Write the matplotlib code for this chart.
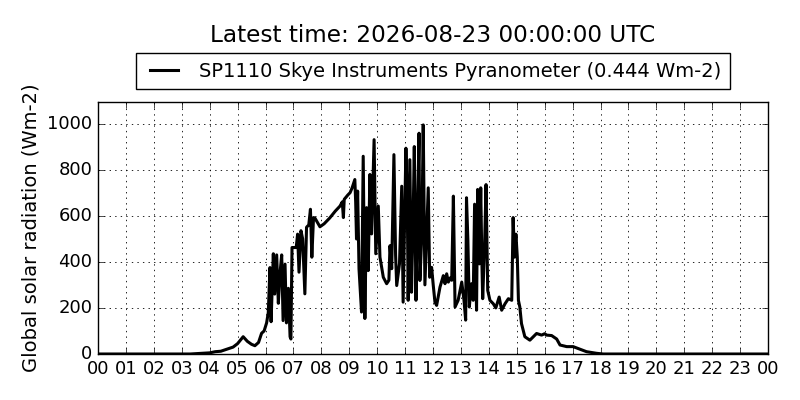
import matplotlib
matplotlib.use("Agg")
import matplotlib.pyplot as plt

# 読み取った値 (時刻[h], 日射量[Wm-2])
hours = [0.0, 3.3, 3.6, 4.0, 4.2, 4.4, 4.6, 4.84, 5.0, 5.2, 5.35, 5.5, 5.62, 5.75, 5.86, 5.95,
         6.04, 6.1, 6.16, 6.2, 6.28, 6.33, 6.4, 6.46, 6.52, 6.58, 6.63, 6.7, 6.75, 6.82, 6.88, 6.91,
         6.95, 7.1, 7.15, 7.2, 7.27, 7.33, 7.41, 7.47, 7.55, 7.61, 7.66, 7.72, 7.77, 7.95,
         8.1, 8.3, 8.5, 8.67, 8.75, 8.79, 8.82, 8.95, 9.03, 9.1, 9.2, 9.23, 9.26, 9.3, 9.35,
         9.44, 9.5, 9.56, 9.62, 9.68, 9.74, 9.8, 9.89, 9.95, 10.04, 10.1, 10.22, 10.34, 10.42,
         10.46, 10.52, 10.6, 10.66, 10.7, 10.8, 10.88, 10.93, 11.03, 11.08, 11.11, 11.17, 11.23,
         11.29, 11.33, 11.39, 11.44, 11.5, 11.53, 11.6, 11.65, 11.71, 11.76, 11.83, 11.88, 11.95,
         12.01, 12.07, 12.13, 12.25, 12.37, 12.43, 12.49, 12.55, 12.61, 12.67, 12.73, 12.79,
         12.9, 13.03, 13.11, 13.17, 13.2, 13.25, 13.3, 13.38, 13.44, 13.49, 13.56, 13.6, 13.66,
         13.71, 13.75, 13.78, 13.85, 13.9, 13.96, 14.04, 14.16, 14.25, 14.37, 14.46, 14.58,
         14.7, 14.82, 14.87, 14.92, 14.97, 15.02, 15.06, 15.11, 15.17, 15.29, 15.47, 15.71,
         15.89, 16.0, 16.07, 16.25, 16.43, 16.55, 16.79, 17.02, 17.28, 17.5, 17.86, 18.1, 24.0]
radiation = [0, 0, 2, 5, 10, 12, 20, 30, 45, 75, 55, 42, 36, 50, 90, 100,
             135, 180, 375, 140, 435, 260, 430, 220, 350, 430, 145, 390, 135, 285, 75, 65,
             462, 462, 520, 355, 535, 500, 261, 550, 560, 628, 420, 592, 590, 552,
             565, 590, 620, 642, 660, 592, 671, 690, 700, 720, 757, 660, 499, 707, 369,
             182, 858, 154, 635, 362, 779, 521, 930, 435, 642, 420, 333, 305, 320,
             470, 370, 865, 430, 297, 392, 728, 225, 893, 650, 233, 843, 268,
             599, 900, 233, 585, 958, 319, 520, 994, 300, 480, 721, 333, 376,
             297, 225, 211, 290, 340, 305, 348, 312, 330, 320, 685, 204,
             233, 312, 233, 147, 678, 491, 204, 305, 233, 650, 190, 714, 391,
             721, 405, 240, 480, 735, 276, 233, 218, 200, 247, 190, 218,
             240, 233, 592, 420, 520, 420, 233, 204, 132, 75, 60, 89,
             82, 88, 82, 80, 65, 39, 32, 32, 20, 10, 3, 0, 0]

title = "Latest time: 2026-08-23 00:00:00 UTC"
label = "SP1110 Skye Instruments Pyranometer (0.444 Wm-2)"
ylabel = "Global solar radiation (Wm-2)"
xticks = list(range(25))
xticklabels = ["%02d" % (h % 24) for h in xticks]
yticks = [0, 200, 400, 600, 800, 1000]


def plot():
    plt.style.use("classic")
    plt.rcParams["font.family"] = "DejaVu Sans"
    fig = plt.figure(figsize=(8, 4), dpi=100, facecolor="white")
    ax = fig.add_axes([0.1225, 0.115, 0.8375, 0.63])

    ax.plot(hours, radiation, color="black", lw=2.2, label=label)

    ax.set_xlim(0, 24)
    ax.set_ylim(0, max(radiation) * 1.1)
    ax.set_xticks(xticks)
    ax.set_xticklabels(xticklabels, fontsize=13)
    ax.set_yticks(yticks)
    ax.tick_params(axis="y", labelsize=13)
    ax.grid(True, linestyle=":", color="black", lw=0.6)
    ax.set_ylabel(ylabel, fontsize=14)

    ax.legend(loc="lower center", bbox_to_anchor=(0.5, 1.05), borderaxespad=0,
              fontsize=14, frameon=True, fancybox=False, handlelength=2, borderpad=0.45)
    # タイトルは軸の中央に合わせる
    ax.text(0.5, 1.264, title, transform=ax.transAxes, ha="center", va="center", fontsize=16.7)

    fig.savefig("out.png", dpi=100, facecolor="white")


if __name__ == "__main__":
    plot()
    plt.close()
